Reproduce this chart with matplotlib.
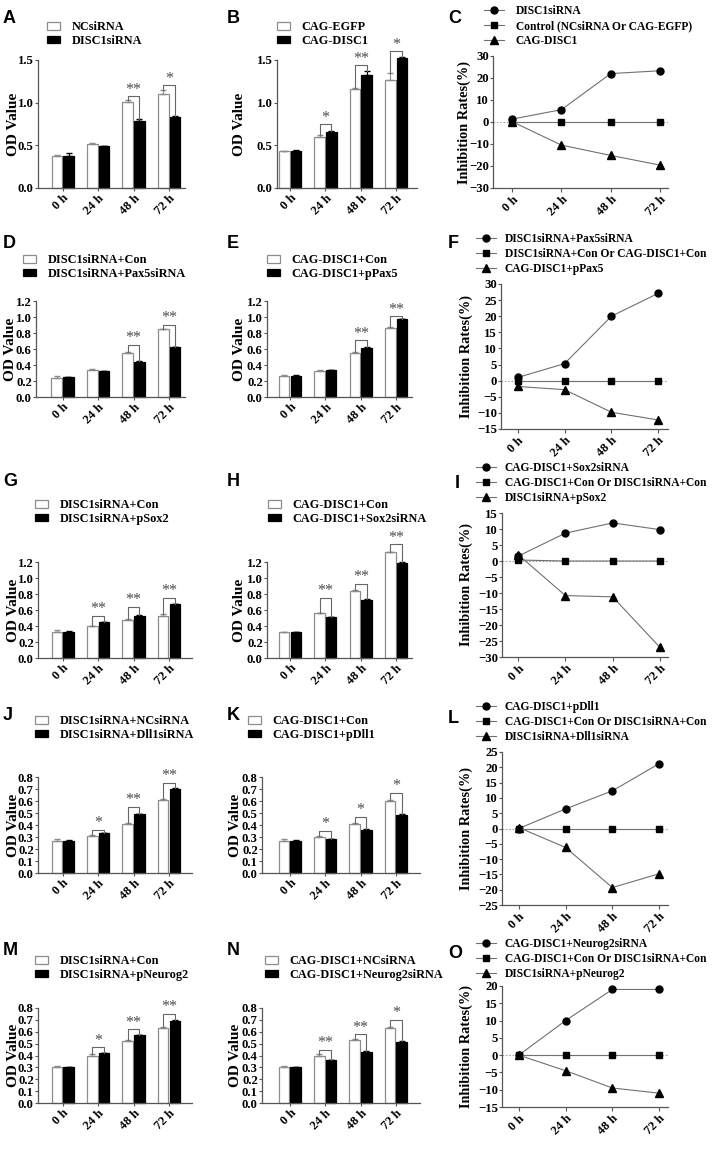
import numpy as np
import matplotlib.pyplot as plt
from matplotlib.patches import Patch

W, H = 722, 1175

hours = ['0 h', '24 h', '48 h', '72 h']

# ---- bar panels (OD values) ----
A_labels = ['NCsiRNA', 'DISC1siRNA']
A_ctrl = [0.38, 0.52, 1.01, 1.10]
A_ctrl_err = [0.01, 0.01, 0.02, 0.05]
A_treat = [0.38, 0.49, 0.79, 0.83]
A_treat_err = [0.03, 0.005, 0.02, 0.01]
A_sig = ['', '', '**', '*']
A_sig_y = [0, 0, 1.08, 1.21]

B_labels = ['CAG-EGFP', 'CAG-DISC1']
B_ctrl = [0.43, 0.60, 1.16, 1.27]
B_ctrl_err = [0.005, 0.02, 0.01, 0.08]
B_treat = [0.43, 0.66, 1.33, 1.52]
B_treat_err = [0.02, 0.01, 0.04, 0.02]
B_sig = ['', '*', '**', '*']
B_sig_y = [0, 0.75, 1.44, 1.60]

D_labels = ['DISC1siRNA+Con', 'DISC1siRNA+Pax5siRNA']
D_ctrl = [0.24, 0.34, 0.55, 0.85]
D_ctrl_err = [0.02, 0.005, 0.01, 0.005]
D_treat = [0.25, 0.32, 0.44, 0.62]
D_treat_err = [0.005, 0.005, 0.01, 0.01]
D_sig = ['', '', '**', '**']
D_sig_y = [0, 0, 0.65, 0.90]

E_labels = ['CAG-DISC1+Con', 'CAG-DISC1+pPax5']
E_ctrl = [0.26, 0.33, 0.55, 0.86]
E_ctrl_err = [0.01, 0.01, 0.01, 0.01]
E_treat = [0.26, 0.34, 0.61, 0.97]
E_treat_err = [0.01, 0.003, 0.01, 0.005]
E_sig = ['', '', '**', '**']
E_sig_y = [0, 0, 0.71, 1.01]

G_labels = ['DISC1siRNA+Con', 'DISC1siRNA+pSox2']
G_ctrl = [0.33, 0.40, 0.48, 0.53]
G_ctrl_err = [0.02, 0.005, 0.005, 0.02]
G_treat = [0.33, 0.45, 0.53, 0.67]
G_treat_err = [0.01, 0.005, 0.005, 0.01]
G_sig = ['', '**', '**', '**']
G_sig_y = [0, 0.53, 0.64, 0.75]

H_labels = ['CAG-DISC1+Con', 'CAG-DISC1+Sox2siRNA']
H_ctrl = [0.32, 0.56, 0.84, 1.32]
H_ctrl_err = [0.01, 0.005, 0.005, 0.01]
H_treat = [0.32, 0.51, 0.73, 1.19]
H_treat_err = [0.01, 0.005, 0.005, 0.01]
H_sig = ['', '**', '**', '**']
H_sig_y = [0, 0.75, 0.93, 1.42]

J_labels = ['DISC1siRNA+NCsiRNA', 'DISC1siRNA+Dll1siRNA']
J_ctrl = [0.27, 0.31, 0.41, 0.61]
J_ctrl_err = [0.01, 0.005, 0.005, 0.01]
J_treat = [0.27, 0.33, 0.49, 0.70]
J_treat_err = [0.005, 0.003, 0.005, 0.005]
J_sig = ['', '*', '**', '**']
J_sig_y = [0, 0.36, 0.55, 0.75]

K_labels = ['CAG-DISC1+Con', 'CAG-DISC1+pDll1']
K_ctrl = [0.27, 0.30, 0.41, 0.60]
K_ctrl_err = [0.01, 0.005, 0.005, 0.005]
K_treat = [0.27, 0.28, 0.36, 0.48]
K_treat_err = [0.005, 0.005, 0.005, 0.01]
K_sig = ['', '*', '*', '*']
K_sig_y = [0, 0.35, 0.47, 0.67]

M_labels = ['DISC1siRNA+Con', 'DISC1siRNA+pNeurog2']
M_ctrl = [0.30, 0.40, 0.52, 0.63]
M_ctrl_err = [0.01, 0.01, 0.01, 0.01]
M_treat = [0.30, 0.42, 0.57, 0.69]
M_treat_err = [0.005, 0.005, 0.005, 0.01]
M_sig = ['', '*', '**', '**']
M_sig_y = [0, 0.47, 0.62, 0.75]

N_labels = ['CAG-DISC1+NCsiRNA', 'CAG-DISC1+Neurog2siRNA']
N_ctrl = [0.30, 0.40, 0.53, 0.63]
N_ctrl_err = [0.01, 0.01, 0.01, 0.01]
N_treat = [0.30, 0.36, 0.43, 0.51]
N_treat_err = [0.005, 0.005, 0.01, 0.01]
N_sig = ['', '**', '**', '*']
N_sig_y = [0, 0.45, 0.58, 0.70]

# ---- line panels (inhibition rates, %) ----
C_labels = ['DISC1siRNA', 'Control (NCsiRNA Or CAG-EGFP)', 'CAG-DISC1']
C_up = [1.3, 5.6, 22.0, 23.3]
C_ctrl = [0, 0, 0, 0]
C_down = [0.2, -10.5, -15.2, -19.6]

F_labels = ['DISC1siRNA+Pax5siRNA', 'DISC1siRNA+Con Or CAG-DISC1+Con', 'CAG-DISC1+pPax5']
F_up = [1.0, 5.3, 20.0, 27.1]
F_ctrl = [0, 0, 0, 0]
F_down = [-1.8, -2.8, -9.8, -12.2]

I_labels = ['CAG-DISC1+Sox2siRNA', 'CAG-DISC1+Con Or DISC1siRNA+Con', 'DISC1siRNA+pSox2']
I_up = [1.5, 8.7, 11.9, 9.8]
I_ctrl = [0.3, 0, 0, 0]
I_down = [2.0, -10.8, -11.2, -27.0]

L_labels = ['CAG-DISC1+pDll1', 'CAG-DISC1+Con Or DISC1siRNA+Con', 'DISC1siRNA+Dll1siRNA']
L_up = [0, 6.4, 12.3, 21.2]
L_ctrl = [0, 0, 0, 0]
L_down = [0.3, -6.2, -19.3, -14.8]

O_labels = ['CAG-DISC1+Neurog2siRNA', 'CAG-DISC1+Con Or DISC1siRNA+Con', 'DISC1siRNA+pNeurog2']
O_up = [0, 10.0, 19.0, 19.0]
O_ctrl = [0, 0, 0, 0]
O_down = [0, -4.5, -9.5, -11.0]

plt.rcParams['font.family'] = ['Liberation Serif', 'DejaVu Serif']
plt.rcParams['font.weight'] = 'bold'

fig = plt.figure(figsize=(W / 100, H / 100), dpi=100)
AX_COL = '#555555'
FS_TICK = 9.2
FS_LEG = 8.8
FS_LEG_LINE = 8.3


def px_box(l, t, r, b):
    return [l / W, 1 - b / H, (r - l) / W, (b - t) / H]


def style_axes(ax):
    for s in ['top', 'right']:
        ax.spines[s].set_visible(False)
    for s in ['left', 'bottom']:
        ax.spines[s].set_color(AX_COL)
        ax.spines[s].set_linewidth(0.9)
    ax.tick_params(axis='both', labelsize=FS_TICK, width=0.8, length=2,
                   color=AX_COL, pad=1)
    ax.set_xticks(np.arange(len(hours)), hours, rotation=45, ha='right',
                  rotation_mode='anchor', fontweight='bold')
    for t in ax.get_yticklabels():
        t.set_fontweight('bold')


def bar_panel(box, xlim, ymax, ystep, labels, ctrl, ctrl_err, treat, treat_err,
              sig, sig_y, leg_xy, ylab_x):
    ax = fig.add_axes(px_box(*box))
    x = np.arange(len(hours))
    w, off = 0.30, 0.165
    ax.bar(x - off, ctrl, w, color='white', edgecolor='#8c8c8c', lw=0.9,
           label=labels[0], clip_on=False, zorder=2)
    ax.bar(x + off, treat, w, color='black', edgecolor='black', lw=0.9,
           label=labels[1], clip_on=False, zorder=2)
    ax.errorbar(x - off, ctrl, yerr=[np.zeros(4), ctrl_err], fmt='none',
                ecolor='#8c8c8c', elinewidth=0.8, capsize=2, clip_on=False, zorder=3)
    ax.errorbar(x + off, treat, yerr=[np.zeros(4), treat_err], fmt='none',
                ecolor='black', elinewidth=0.8, capsize=2, clip_on=False, zorder=3)
    for i, s in enumerate(sig):
        if not s:
            continue
        y1 = ctrl[i] + ctrl_err[i]
        y2 = treat[i] + treat_err[i]
        yh = sig_y[i]
        ax.plot([x[i] - off, x[i] - off, x[i] + off, x[i] + off], [y1, yh, yh, y2],
                color='#666666', lw=0.8, clip_on=False, zorder=4)
        ax.text(x[i], yh - 0.015 * ymax, s, ha='center', va='bottom', fontsize=11.5,
                color='#4d4d4d', fontweight='normal')
    ax.set_xlim(*xlim)
    ax.set_ylim(0, ymax)
    ax.set_yticks(np.arange(0, ymax + ystep / 2, ystep))
    ax.yaxis.set_major_formatter(plt.FormatStrFormatter('%.1f'))
    style_axes(ax)
    ax.set_ylabel('OD Value', fontsize=11, fontweight='bold')
    ax.yaxis.set_label_coords((ylab_x - box[0]) / (box[2] - box[0]), 0.5)
    handles = [Patch(facecolor='white', edgecolor='#8c8c8c', lw=0.9),
               Patch(facecolor='black', edgecolor='black', lw=0.9)]
    ax.legend(handles, labels, loc='upper left',
              bbox_to_anchor=(leg_xy[0] / W, 1 - leg_xy[1] / H),
              bbox_transform=fig.transFigure, frameon=False, fontsize=FS_LEG,
              borderpad=0, borderaxespad=0, handlelength=1.1, handleheight=0.6,
              handletextpad=0.9, labelspacing=0.15)
    return ax


def line_panel(box, xlim, ylim, ystep, labels, up, ctrl, down, leg_xy, textpad,
               ylab_x=473):
    ax = fig.add_axes(px_box(*box))
    x = np.arange(len(hours))
    ax.axhline(0, color='#a0a0a0', lw=0.8, ls=(0, (1.5, 1.5)), zorder=1)
    kw = dict(color='#707070', mfc='black', mec='black', lw=0.8, clip_on=False)
    ax.plot(x, up, '-o', ms=5, label=labels[0], zorder=3, **kw)
    ax.plot(x, ctrl, '-s', ms=4, label=labels[1], zorder=3, **kw)
    ax.plot(x, down, '-^', ms=6, label=labels[2], zorder=3, **kw)
    ax.set_xlim(*xlim)
    ax.set_ylim(*ylim)
    ax.set_yticks(np.arange(ylim[0], ylim[1] + ystep / 2, ystep))
    style_axes(ax)
    ax.tick_params(axis='x', length=3)
    ax.set_ylabel('Inhibition Rates(%)', fontsize=10.3, fontweight='bold')
    ax.yaxis.set_label_coords((ylab_x - box[0]) / (box[2] - box[0]), 0.5)
    ax.legend(loc='upper left', bbox_to_anchor=(leg_xy[0] / W, 1 - leg_xy[1] / H),
              bbox_transform=fig.transFigure, frameon=False, fontsize=FS_LEG_LINE,
              borderpad=0, borderaxespad=0, handlelength=1.75,
              handletextpad=textpad, labelspacing=0.25)
    return ax


# left column
bar_panel((38, 60, 185, 188), (-0.70, 3.45), 1.5, 0.5, A_labels, A_ctrl, A_ctrl_err,
          A_treat, A_treat_err, A_sig, A_sig_y, (47, 21), 20)
bar_panel((36, 301, 185, 397), (-0.75, 3.45), 1.2, 0.2, D_labels, D_ctrl, D_ctrl_err,
          D_treat, D_treat_err, D_sig, D_sig_y, (23, 254), 17)
bar_panel((38, 562, 192, 658), (-0.70, 3.65), 1.2, 0.2, G_labels, G_ctrl, G_ctrl_err,
          G_treat, G_treat_err, G_sig, G_sig_y, (35, 499), 20)
bar_panel((38, 777, 192, 873), (-0.70, 3.65), 0.8, 0.1, J_labels, J_ctrl, J_ctrl_err,
          J_treat, J_treat_err, J_sig, J_sig_y, (35, 715), 20)
bar_panel((38, 1008, 192, 1103), (-0.70, 3.65), 0.8, 0.1, M_labels, M_ctrl, M_ctrl_err,
          M_treat, M_treat_err, M_sig, M_sig_y, (35, 955), 20)

# middle column
bar_panel((277, 60, 417, 188), (-0.37, 3.59), 1.5, 0.5, B_labels, B_ctrl, B_ctrl_err,
          B_treat, B_treat_err, B_sig, B_sig_y, (277, 21), 246)
bar_panel((267, 301, 412, 397), (-0.65, 3.45), 1.2, 0.2, E_labels, E_ctrl, E_ctrl_err,
          E_treat, E_treat_err, E_sig, E_sig_y, (267, 254), 246)
bar_panel((267, 562, 412, 658), (-0.65, 3.45), 1.2, 0.2, H_labels, H_ctrl, H_ctrl_err,
          H_treat, H_treat_err, H_sig, H_sig_y, (268, 499), 246)
bar_panel((262, 777, 420, 873), (-0.79, 3.68), 0.8, 0.1, K_labels, K_ctrl, K_ctrl_err,
          K_treat, K_treat_err, K_sig, K_sig_y, (248, 715), 242)
bar_panel((262, 1008, 420, 1103), (-0.79, 3.68), 0.8, 0.1, N_labels, N_ctrl, N_ctrl_err,
          N_treat, N_treat_err, N_sig, N_sig_y, (265, 955), 242)

# right column
line_panel((493, 56, 668, 188), (-0.385, 3.16), (-30, 30), 10, C_labels,
           C_up, C_ctrl, C_down, (484, 5), 1.0, ylab_x=471)
line_panel((501, 284, 668, 429), (-0.36, 3.21), (-15, 30), 5, F_labels,
           F_up, F_ctrl, F_down, (476, 233), 0.75)
line_panel((502, 513, 668, 657), (-0.34, 3.17), (-30, 15), 5, I_labels,
           I_up, I_ctrl, I_down, (476, 462), 0.75)
line_panel((502, 752, 668, 905), (-0.36, 3.19), (-25, 25), 5, L_labels,
           L_up, L_ctrl, L_down, (476, 701), 0.75)
line_panel((502, 986, 668, 1107), (-0.36, 3.19), (-15, 20), 5, O_labels,
           O_up, O_ctrl, O_down, (476, 938), 0.75)

letters = [('A', 3, 10), ('B', 227, 10), ('C', 448, 10),
           ('D', 3, 235), ('E', 227, 235), ('F', 448, 235),
           ('G', 3, 473), ('H', 227, 473), ('I', 455, 475),
           ('J', 3, 707), ('K', 227, 707), ('L', 448, 710),
           ('M', 3, 942), ('N', 227, 942), ('O', 448, 945)]
for s, lx, ly in letters:
    fig.text(lx / W, 1 - ly / H, s, ha='left', va='top', fontsize=13,
             fontweight='bold', family=['Liberation Sans', 'DejaVu Sans'])

fig.savefig('out.png', dpi=100)
